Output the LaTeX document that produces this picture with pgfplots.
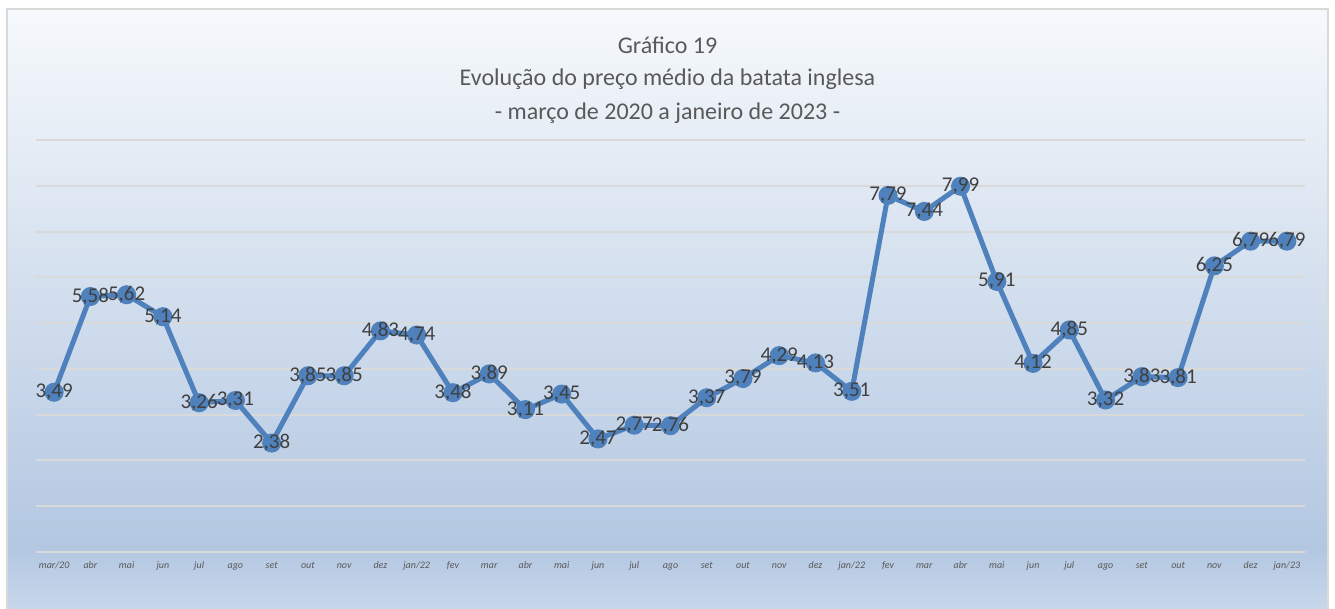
\documentclass[border=0pt]{standalone}
\usepackage{pgfplots}
\pgfplotsset{compat=1.18}
\usepackage{fontspec}
\setmainfont{Carlito}
\definecolor{linec}{HTML}{4F81BD}
\definecolor{txt}{HTML}{595959}
\definecolor{lbl}{HTML}{404040}
\definecolor{gridc}{HTML}{D9D9D9}
\definecolor{bgtop}{HTML}{F6F9FC}
\definecolor{bgmid}{HTML}{B3C7E1}
\definecolor{bgbot}{HTML}{C7D7EB}
\pgfplotstableread{
x y
0 3.49
1 5.58
2 5.62
3 5.14
4 3.26
5 3.31
6 2.38
7 3.85
8 3.85
9 4.83
10 4.74
11 3.48
12 3.89
13 3.11
14 3.45
15 2.47
16 2.77
17 2.76
18 3.37
19 3.79
20 4.29
21 4.13
22 3.51
23 7.79
24 7.44
25 7.99
26 5.91
27 4.12
28 4.85
29 3.32
30 3.83
31 3.81
32 6.25
33 6.79
34 6.79
}\datatable
\begin{document}
\begin{tikzpicture}
\useasboundingbox (0pt,0pt) rectangle (1335pt,608pt);
\fill[white] (0pt,0pt) rectangle (1335pt,608pt);
\shade[top color=bgtop, bottom color=bgmid] (7pt,60pt) rectangle (1328pt,599pt);
\shade[top color=bgmid, bottom color=bgbot] (7pt,0pt) rectangle (1328pt,60.5pt);
\draw[gridc, line width=2pt] (7pt,-4pt) -- (7pt,599pt) -- (1328pt,599pt) -- (1328pt,-4pt);
\node[txt, font=\fontsize{24}{24}\selectfont] at (667.5pt,563pt) {Gráfico 19};
\node[txt, font=\fontsize{24}{24}\selectfont] at (667.5pt,529pt) {Evolução do preço médio da batata inglesa};
\node[txt, font=\fontsize{24}{24}\selectfont] at (667.5pt,495pt) {- março de 2020 a janeiro de 2023 -};
\begin{axis}[
  at={(36pt,56pt)}, anchor=south west, scale only axis,
  width=1269pt, height=412pt,
  xmin=-0.5, xmax=34.5, ymin=0, ymax=9,
  axis x line*=bottom, axis y line*=left,
  y axis line style={draw=none},
  x axis line style={draw=gridc, line width=2pt},
  ytick={1,...,9}, yticklabels={},
  ymajorgrids, grid style={draw=gridc, line width=2pt},
  major tick length=0pt,
  xtick={0,...,34},
  xticklabels={mar/20,abr,mai,jun,jul,ago,set,out,nov,dez,jan/22,fev,mar,abr,mai,jun,jul,ago,set,out,nov,dez,jan/22,fev,mar,abr,mai,jun,jul,ago,set,out,nov,dez,jan/23},
  xticklabel style={font=\fontsize{10}{10}\selectfont\itshape, text=txt, yshift=-6pt, text height=7pt, text depth=2pt},
  clip=false,
  /pgf/number format/.cd, fixed, fixed zerofill, precision=2, use comma, assume math mode=true,
]
\addplot[color=linec, line width=5pt, mark=*, mark size=7pt, mark options={fill=linec, draw=linec},
  nodes near coords,
  every node near coord/.append style={anchor=center, inner sep=0pt, text=lbl, font=\fontsize{21}{21}\selectfont}]
  table[x=x, y=y] {\datatable};
\end{axis}
\end{tikzpicture}
\end{document}
